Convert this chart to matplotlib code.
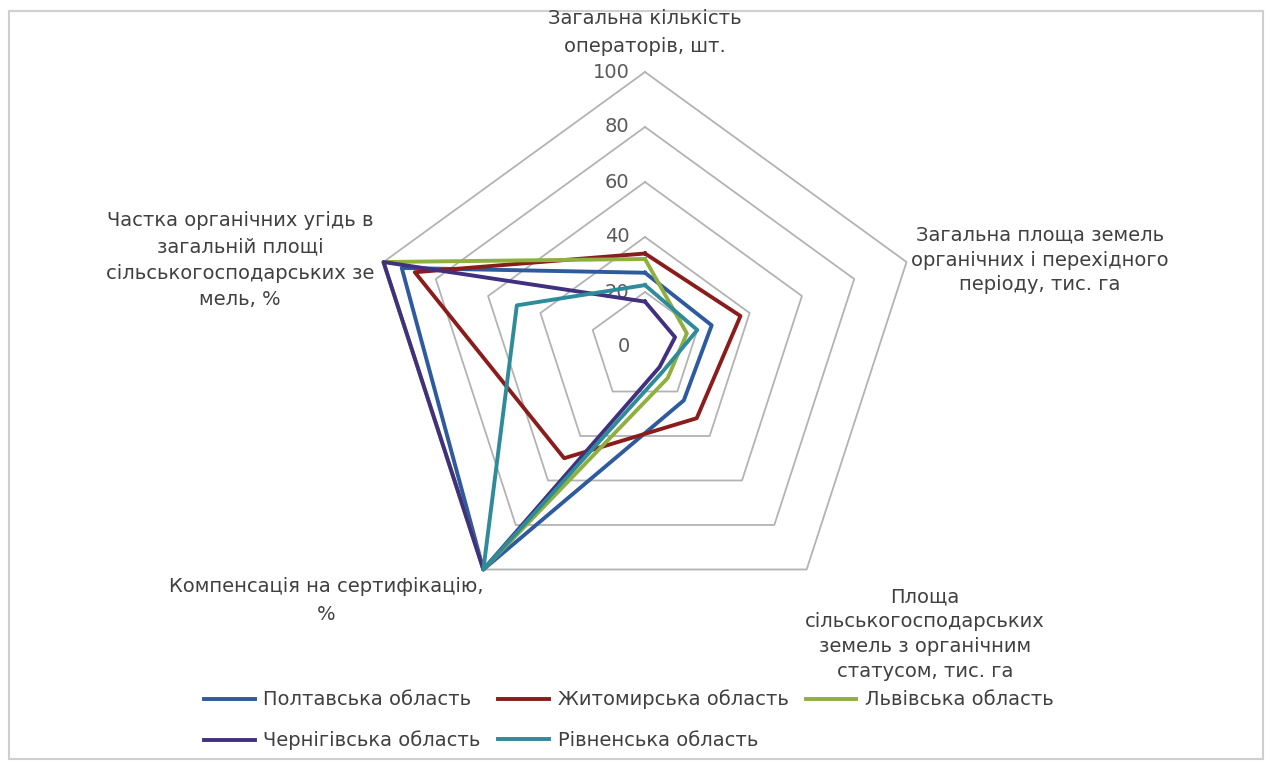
import numpy as np
import matplotlib.pyplot as plt
from matplotlib.patches import Rectangle

# radar chart: organic farming indicators by region (values in % of max)

categories = [
    "Загальна кількість\nоператорів, шт.",
    "Загальна площа земель\nорганічних і перехідного\nперіоду, тис. га",
    "Площа\nсільськогосподарських\nземель з органічним\nстатусом, тис. га",
    "Компенсація на сертифікацію,\n%",
    "Частка органічних угідь в\nзагальній площі\nсільськогосподарських зе\nмель, %",
]
regions = ["Полтавська область", "Житомирська область", "Львівська область",
           "Чернігівська область", "Рівненська область"]

poltava = [27, 25.5, 24, 100, 93]
zhytomyr = [34, 36.5, 32, 50, 88]
lviv = [32, 16, 14, 100, 100]
chernihiv = [16.5, 11.5, 9, 100, 100]
rivne = [22.5, 20, 11, 100, 49]
series = [poltava, zhytomyr, lviv, chernihiv, rivne]

ticks = [0, 20, 40, 60, 80, 100]
colors = ["#2E5A9E", "#8B1C1C", "#8FAF3F", "#40307F", "#2E8B9A"]

plt.rcParams['font.family'] = ['DejaVu Sans']

W, H = 1272, 771
fig = plt.figure(figsize=(W / 100, H / 100), dpi=100)


def fx(px):
    return px / W


def fy(py):
    return 1 - py / H


# chart area border
fig.patches.append(Rectangle((fx(9), fy(759)), fx(1263) - fx(9), fy(11) - fy(759),
                             transform=fig.transFigure, fill=False,
                             edgecolor="#cfcfcf", lw=1.5))

cx, cy, R = 645, 347, 275
ax = fig.add_axes([fx(cx - R), fy(cy + R), 2 * R / W, 2 * R / H], projection="polar")
ax.set_theta_offset(np.pi / 2)
ax.set_theta_direction(-1)
ax.set_ylim(0, 100)
ax.grid(False)
ax.set_xticks([])
ax.set_yticks([])
ax.spines["polar"].set_visible(False)
ax.patch.set_alpha(0)

angles = np.linspace(0, 2 * np.pi, len(categories), endpoint=False)
closed = np.append(angles, angles[0])

# pentagon grid rings + value labels
for t in ticks:
    if t > 0:
        ax.plot(closed, [t] * len(closed), color="#b3b3b3", lw=1.3, zorder=1, clip_on=False)
    ax.annotate(str(t), (0, t), xytext=(-11, 0), textcoords="offset points",
                ha="right", va="center", fontsize=14, color="#595959")

lines = []
for vals, name, c in zip(series, regions, colors):
    v = np.append(vals, vals[0])
    ln, = ax.plot(closed, v, color=c, lw=2.8, label=name, zorder=3, clip_on=False)
    lines.append(ln)

# category labels
label_pos = [(645, 32, 1.6), (1040, 260, 1.4), (925, 634, 1.4), (326, 600, 1.6), (240, 260, 1.5)]
for text, (px, py, ls) in zip(categories, label_pos):
    fig.text(fx(px), fy(py), text, ha="center", va="center", fontsize=14,
             color="#404040", linespacing=ls)

# legend in row order: P, Zh, L / Ch, R
order = [0, 3, 1, 4, 2]
fig.legend([lines[i] for i in order], [regions[i] for i in order], ncol=3,
           loc="center", bbox_to_anchor=(fx(629), fy(720)), frameon=False,
           fontsize=14, handlelength=2.6, handletextpad=0.45, columnspacing=0.9,
           labelspacing=1.1, labelcolor="#404040")

fig.savefig("out.png", dpi=100)
